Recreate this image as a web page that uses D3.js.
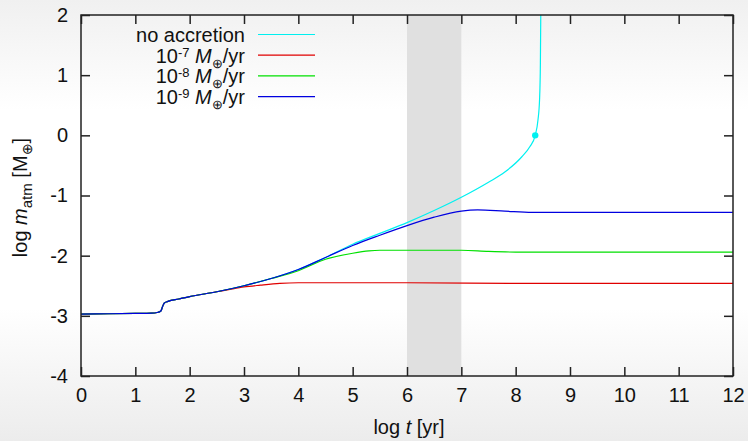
<!DOCTYPE html>
<html>
<head>
<meta charset="utf-8">
<script src="https://cdn.jsdelivr.net/npm/d3@7"></script>
<style>
  body { margin: 0; background: #fff; }
  svg { display: block; font-family: "Liberation Sans", Arial, sans-serif; }
</style>
</head>
<body>
<div id="chart"></div>
<script>
// sizes
var width = 748, height = 441;
var margin = {top: 15, right: 15, bottom: 65, left: 81};

// data (log t [yr], log m_atm [M_earth])
var baseT = [0, 0.5, 1.0, 1.3, 1.4, 1.47, 1.5, 1.53, 1.6, 1.8, 2.0, 2.5];
var baseM = [-2.97, -2.965, -2.96, -2.955, -2.945, -2.92, -2.85, -2.79, -2.76, -2.72, -2.68, -2.6];

var noAccT = [3.0, 3.5, 4.0, 4.5, 5.0, 5.5, 6.0, 6.5, 7.0, 7.5, 7.8, 8.11, 8.26, 8.36, 8.41, 8.44, 8.455, 8.462];
var noAccM = [-2.5, -2.38, -2.23, -2.03, -1.81, -1.63, -1.45, -1.25, -1.03, -0.78, -0.61, -0.36, -0.19, 0, 0.25, 0.6, 1.2, 2];

var acc7T = [2.74, 3.0, 3.3, 3.66, 4.0, 5.0, 6.0, 8.0, 10.0, 12.0];
var acc7M = [-2.56, -2.52, -2.49, -2.46, -2.45, -2.45, -2.45, -2.46, -2.46, -2.46];

var acc8T = [3.0, 3.5, 4.0, 4.5, 5.0, 5.3, 5.5, 7.0, 7.5, 8.0, 12.0];
var acc8M = [-2.5, -2.38, -2.25, -2.06, -1.96, -1.92, -1.91, -1.91, -1.93, -1.94, -1.94];

var acc9T = [3.0, 3.5, 4.0, 4.5, 5.0, 5.5, 6.0, 6.5, 7.0, 7.3, 7.8, 8.3, 12.0];
var acc9M = [-2.5, -2.38, -2.23, -2.03, -1.83, -1.66, -1.5, -1.36, -1.26, -1.24, -1.26, -1.28, -1.28];

var critT = [8.36];   // marked point on the no-accretion curve
var critM = [0];

var shadeRange = [6, 7];
var xTicks = d3.range(0, 13);
var yTicks = [-4, -3, -2, -1, 0, 1, 2];

var seriesNames = ["no accretion", "-7", "-8", "-9"];
var seriesColors = ["#00f0f0", "#e00000", "#00e000", "#0000e0"];

function toPoints(t, m) {
  return t.map(function(d, i) { return [d, m[i]]; });
}
var series = [
  toPoints(baseT.concat(noAccT), baseM.concat(noAccM)),
  toPoints(baseT.concat(acc7T), baseM.concat(acc7M)),
  toPoints(baseT.concat(acc8T), baseM.concat(acc8M)),
  toPoints(baseT.concat(acc9T), baseM.concat(acc9M))
];

var svg = d3.select("#chart").append("svg")
  .attr("width", width)
  .attr("height", height);

// background gradient
var defs = svg.append("defs");
var grad = defs.append("linearGradient")
  .attr("id", "bg").attr("x1", 0).attr("y1", 0).attr("x2", 0).attr("y2", 1);
grad.append("stop").attr("offset", "0").attr("stop-color", "#f0f0f0");
grad.append("stop").attr("offset", "0.25").attr("stop-color", "#ffffff");
grad.append("stop").attr("offset", "0.7").attr("stop-color", "#ffffff");
grad.append("stop").attr("offset", "1").attr("stop-color", "#ececec");
svg.append("rect").attr("width", width).attr("height", height).attr("fill", "url(#bg)");

defs.append("clipPath").attr("id", "clip")
  .append("rect")
  .attr("x", margin.left).attr("y", margin.top)
  .attr("width", width - margin.left - margin.right)
  .attr("height", height - margin.top - margin.bottom);

var x = d3.scaleLinear().domain([0, 12]).range([margin.left, width - margin.right]);
var y = d3.scaleLinear().domain([-4, 2]).range([height - margin.bottom, margin.top]);

// shaded band
svg.append("rect")
  .attr("x", x(shadeRange[0]))
  .attr("y", margin.top)
  .attr("width", x(shadeRange[1]) - x(shadeRange[0]))
  .attr("height", y(-4) - y(2))
  .attr("fill", "#e0e0e0");

// curves
var line = d3.line()
  .x(function(d) { return x(d[0]); })
  .y(function(d) { return y(d[1]); })
  .curve(d3.curveMonotoneX);

svg.append("g").attr("clip-path", "url(#clip)")
  .selectAll("path")
  .data(series)
  .join("path")
  .attr("d", line)
  .attr("fill", "none")
  .attr("stroke", function(d, i) { return seriesColors[i]; })
  .attr("stroke-width", 1.2);

svg.selectAll(".crit")
  .data(critT)
  .join("circle")
  .attr("class", "crit")
  .attr("cx", function(d) { return x(d); })
  .attr("cy", function(d, i) { return y(critM[i]); })
  .attr("r", 3.2)
  .attr("fill", "#00f0f0");

// axes, ticks pointing inward
var tickLen = 9;
var fmt = function(d) { return String(d); };  // plain hyphen minus
function styleAxis(g) {
  g.select(".domain").remove();
  g.selectAll(".tick line").attr("stroke", "#222").attr("stroke-width", 1.5);
  g.selectAll(".tick text").attr("fill", "#111").style("font-size", "20px");
}
svg.append("g")
  .attr("transform", "translate(0," + y(-4) + ")")
  .call(d3.axisBottom(x).tickValues(xTicks).tickSize(-tickLen).tickPadding(12).tickFormat(fmt))
  .call(styleAxis);
svg.append("g")
  .attr("transform", "translate(0," + y(2) + ")")
  .call(d3.axisTop(x).tickValues(xTicks).tickSize(-tickLen).tickFormat(""))
  .call(styleAxis);
svg.append("g")
  .attr("transform", "translate(" + x(0) + ",0)")
  .call(d3.axisLeft(y).tickValues(yTicks).tickSize(-tickLen).tickPadding(13).tickFormat(fmt))
  .call(styleAxis);
svg.append("g")
  .attr("transform", "translate(" + x(12) + ",0)")
  .call(d3.axisRight(y).tickValues(yTicks).tickSize(-tickLen).tickFormat(""))
  .call(styleAxis);

// frame
svg.append("rect")
  .attr("x", x(0)).attr("y", y(2))
  .attr("width", x(12) - x(0)).attr("height", y(-4) - y(2))
  .attr("fill", "none").attr("stroke", "#222").attr("stroke-width", 1.5);

// axis labels
var xl = svg.append("text")
  .attr("x", (x(0) + x(12)) / 2 + 2)
  .attr("y", 434)
  .attr("text-anchor", "middle")
  .style("font-size", "20px")
  .attr("fill", "#111");
xl.append("tspan").text("log ");
xl.append("tspan").style("font-style", "italic").text("t");
xl.append("tspan").text(" [yr]");

var yl = svg.append("text")
  .attr("transform", "translate(27," + (y(-1) + 2) + ") rotate(-90)")
  .attr("text-anchor", "middle")
  .style("font-size", "20px")
  .attr("fill", "#111");
yl.append("tspan").text("log ");
yl.append("tspan").style("font-style", "italic").text("m");
yl.append("tspan").attr("dy", 5).style("font-size", "15px").text("atm");
yl.append("tspan").attr("dy", -5).text(" [M");
yl.append("tspan").attr("dy", 5).style("font-size", "14px").text("⊕");
yl.append("tspan").attr("dy", -5).text("]");

// legend
var legX = 245, legY0 = 42, legDy = 20.7;
var leg = svg.append("g");
seriesNames.forEach(function(name, i) {
  var yy = legY0 + i * legDy;
  var t = leg.append("text")
    .attr("x", legX).attr("y", yy)
    .attr("text-anchor", "end")
    .style("font-size", "20px")
    .attr("fill", "#111");
  if (i === 0) {
    t.text(name);
  } else {
    t.append("tspan").text("10");
    t.append("tspan").attr("dy", -6).style("font-size", "13px").text(name);
    t.append("tspan").attr("dy", 6).text(" ");
    t.append("tspan").style("font-style", "italic").text("M");
    t.append("tspan").attr("dy", 5).style("font-size", "13px").text("⊕");
    t.append("tspan").attr("dy", -5).text("/yr");
  }
  leg.append("line")
    .attr("x1", 258).attr("x2", 315)
    .attr("y1", yy - 7.5).attr("y2", yy - 7.5)
    .attr("stroke", seriesColors[i])
    .attr("stroke-width", 1.2);
});
</script>
</body>
</html>
